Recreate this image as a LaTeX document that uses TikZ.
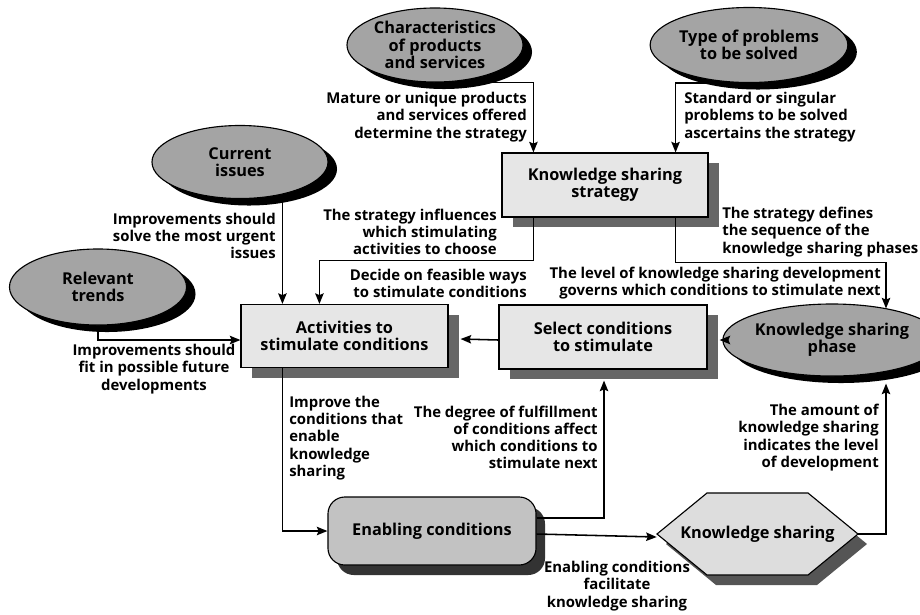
\documentclass[tikz,border=0pt]{standalone}
\usepackage{fontspec}
\setmainfont{Open Sans}
\usetikzlibrary{shapes.geometric,shadows,arrows.meta,calc}

\definecolor{ovalgray}{HTML}{A4A4A4}
\definecolor{boxgray}{HTML}{E6E6E6}
\definecolor{boxshade}{HTML}{666666}
\definecolor{enabgray}{HTML}{C2C2C2}
\definecolor{enabshade}{HTML}{333333}
\definecolor{sharegray}{HTML}{DDDDDD}
\definecolor{shareshade}{HTML}{555555}

\newcommand\shapetext{\fontsize{11.6}{12.4}\selectfont\bfseries}
\newcommand\notetext{\fontsize{10.6}{12.2}\selectfont\bfseries}

\tikzset{
  oval/.style={ellipse, draw, line width=0.8pt, fill=ovalgray, inner sep=0pt,
    align=center, font=\shapetext,
    drop shadow={shadow xshift=0.225cm, shadow yshift=-0.175cm, fill=black, opacity=1}},
  stepbox/.style={rectangle, draw, line width=0.8pt, fill=boxgray, inner sep=0pt,
    align=center, font=\shapetext,
    drop shadow={shadow xshift=0.275cm, shadow yshift=-0.25cm, fill=boxshade, opacity=1}},
  enabbox/.style={rectangle, rounded corners=12pt, draw, line width=0.8pt, fill=enabgray,
    inner sep=0pt, align=center, font=\shapetext,
    drop shadow={shadow xshift=0.225cm, shadow yshift=-0.25cm, fill=enabshade, opacity=1}},
  hexline/.style={draw, line width=0.8pt, fill=sharegray,
    drop shadow={shadow xshift=0.225cm, shadow yshift=-0.25cm, fill=shareshade, opacity=1}},
  sharebox/.style={rectangle, inner sep=0pt, align=center, font=\shapetext},
  note/.style={inner sep=0pt, font=\notetext},
  arr/.style={line width=1.1pt, -{Stealth[length=7.5pt, width=6pt, inset=1.2pt]}}
}

\begin{document}
\begin{tikzpicture}[x=0.025cm, y=-0.025cm]
  \useasboundingbox (0,0) rectangle (920,614);

  % Ovals: influences
  \node [oval, minimum width=4.4cm, minimum height=1.85cm] (chars) at (435,45) {Characteristics\\of products\\and services};
  \node [oval, minimum width=4.45cm, minimum height=1.875cm] (types) at (749,45) {Type of problems\\to be solved};
  \node [oval, minimum width=4.4cm, minimum height=1.825cm] (curr) at (240,162) {Current\\issues};
  \node [oval, minimum width=4.425cm, minimum height=1.9cm] (trends) at (98,287) {Relevant\\trends};
  \node [oval, minimum width=4.5cm, minimum height=1.8cm] (phase) at (832,340) {Knowledge sharing\\phase};

  % Boxes
  \node [stepbox, minimum width=5.15cm, minimum height=1.6cm] (strat) at (605,185) {Knowledge sharing\\strategy};
  \node [stepbox, minimum width=5.175cm, minimum height=1.575cm] (acts) at (344.5,336) {Activities to\\stimulate conditions};
  \node [stepbox, minimum width=5.2cm, minimum height=1.6cm] (select) at (603,337) {Select conditions\\to stimulate};
  \node [enabbox, minimum width=5.2cm, minimum height=1.7cm] (enab) at (432,531) {Enabling conditions};

  % Hexagon: knowledge sharing
  \coordinate (kscentre) at (757.5,534);
  \path [hexline] ($(kscentre)+(-100.5,0)$) -- ($(kscentre)+(-50.5,-41)$) -- ($(kscentre)+(50.5,-41)$)
    -- ($(kscentre)+(100.5,0)$) -- ($(kscentre)+(50.5,41)$) -- ($(kscentre)+(-50.5,41)$) -- cycle;
  \node [sharebox, minimum width=5.025cm, minimum height=2.05cm] (ks) at (kscentre) {Knowledge sharing};

  % Connectors
  \draw [arr] (chars.south) -| ([xshift=0.8cm]strat.north west);
  \draw [arr] (types.south) -| ([xshift=-0.825cm]strat.north east);
  \draw [arr] (curr.south) -| ([xshift=1.05cm]acts.north west);
  \draw [arr] ([xshift=0.8cm]strat.south west) -- ++(0,43) -| ([xshift=1.975cm]acts.north west);
  \draw [arr] ([xshift=-0.825cm]strat.south east) -- ++(0,45) -| ($(phase.north)+(54,5)$);
  \draw [arr] (trends.south) |- ([yshift=-0.1cm]acts.west);
  \draw [arr] ([yshift=-0.075cm]select.west) -- ([xshift=0.3cm,yshift=-0.075cm]acts.east);
  \draw [arr] (phase.west) -- (phase.west -| {$(select.east)+(12,0)$});
  \draw [arr] ([xshift=1.05cm]acts.south west) |- (enab.west);
  \draw [arr] ([yshift=0.325cm]enab.east) -| ($(select.south)+(1,11)$);
  \draw [arr] ([yshift=-0.075cm]enab.east) -- ([yshift=-0.075cm]ks.west);
  \draw [arr] (ks.east) -| ($(phase.south)+(54,7)$);

  % Labels on connectors
  \node [note, anchor=east, align=right] (lmature) at (527,117) {Mature or unique products\\and services offered\\determine the strategy};
  \node [note, anchor=west, align=left] (lstandard) at (684,117) {Standard or singular\\problems to be solved\\ascertains the strategy};
  \node [note, anchor=east, align=right] (linfluence) at (497,232) {The strategy influences\\which stimulating\\activities to choose};
  \node [note, anchor=west, align=left] (ldefines) at (722,232) {The strategy defines\\the sequence of the\\knowledge sharing phases};
  \node [note, anchor=east, align=right] (ldecide) at (527,283.5) {Decide on feasible ways\\to stimulate conditions};
  \node [note, anchor=east, align=right] (llevel) at (881,283.5) {The level of knowledge sharing development\\governs which conditions to stimulate next};
  \node [note, anchor=east, align=right] (lurgent) at (276,236) {Improvements should\\solve the most urgent\\issues};
  \node [note, align=center] (lfuture) at (154,369) {Improvements should\\fit in possible future\\developments};
  \node [note, anchor=west, align=left] (limprove) at (289,438) {Improve the\\conditions that\\enable\\knowledge\\sharing};
  \node [note, anchor=east, align=right] (ldegree) at (598,437.5) {The degree of fulfillment\\of conditions affect\\which conditions to\\stimulate next};
  \node [note, anchor=east, align=right] (lamount) at (879,437.5) {The amount of\\knowledge sharing\\indicates the level\\of development};
  \node [note, align=center] (lfacilitate) at (617,586) {Enabling conditions\\facilitate\\knowledge sharing};
\end{tikzpicture}
\end{document}
